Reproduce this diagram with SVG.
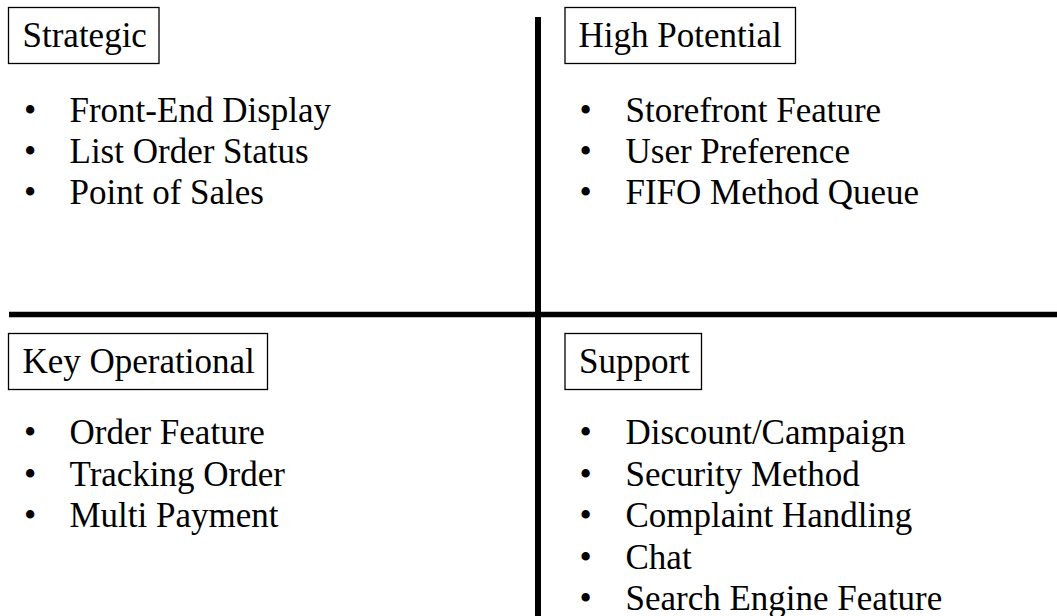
<svg xmlns="http://www.w3.org/2000/svg" width="1057" height="616" viewBox="0 0 1057 616">
<style>
text{font-family:"Liberation Serif","Times New Roman",serif;font-size:35px;fill:#000}
.box{fill:#fff;stroke:#000;stroke-width:1.3}
.axis{stroke:#000;fill:none}
</style>
<rect width="1057" height="616" fill="#fff"/>
<g id="connectors">
<line class="axis" x1="538" y1="17" x2="538" y2="616" stroke-width="6"/>
<line class="axis" x1="9" y1="314.5" x2="1057" y2="314.5" stroke-width="5.5"/>
</g>
<g id="strategic">
<rect class="box" x="8.5" y="7.5" width="150.5" height="56"/>
<text x="22.5" y="46.5">Strategic</text>
<text x="24" y="121.5">•</text><text x="69.5" y="121.5">Front-End Display</text>
<text x="24" y="162.5">•</text><text x="69.5" y="162.5">List Order Status</text>
<text x="24" y="204">•</text><text x="69.5" y="204">Point of Sales</text>
</g>
<g id="high-potential">
<rect class="box" x="565" y="7.5" width="230.5" height="56"/>
<text x="578.5" y="46.5">High Potential</text>
<text x="579.5" y="121.5">•</text><text x="625.5" y="121.5">Storefront Feature</text>
<text x="579.5" y="162.5">•</text><text x="625.5" y="162.5">User Preference</text>
<text x="579.5" y="204">•</text><text x="625.5" y="204">FIFO Method Queue</text>
</g>
<g id="key-operational">
<rect class="box" x="8.5" y="333.5" width="259" height="56"/>
<text x="22.5" y="372.5">Key Operational</text>
<text x="24" y="444">•</text><text x="69.5" y="444">Order Feature</text>
<text x="24" y="485.5">•</text><text x="69.5" y="485.5">Tracking Order</text>
<text x="24" y="527">•</text><text x="69.5" y="527">Multi Payment</text>
</g>
<g id="support">
<rect class="box" x="565" y="333.5" width="136.5" height="56"/>
<text x="579" y="372.5">Support</text>
<text x="579.5" y="444">•</text><text x="625.5" y="444">Discount/Campaign</text>
<text x="579.5" y="485.5">•</text><text x="625.5" y="485.5">Security Method</text>
<text x="579.5" y="527">•</text><text x="625.5" y="527">Complaint Handling</text>
<text x="579.5" y="568.5">•</text><text x="625.5" y="568.5">Chat</text>
<text x="579.5" y="610">•</text><text x="625.5" y="610">Search Engine Feature</text>
</g>
</svg>
